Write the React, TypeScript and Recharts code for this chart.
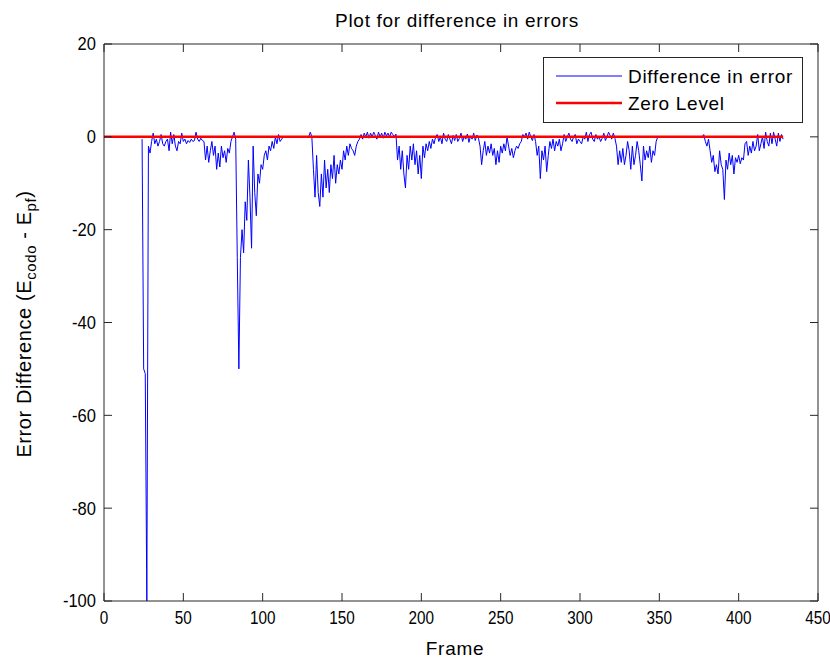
import React from "react";
import { LineChart, Line, XAxis, YAxis, Legend } from "recharts";

// ---- data ----
const xTicks = [0, 50, 100, 150, 200, 250, 300, 350, 400, 450];
const yTicks = [-100, -80, -60, -40, -20, 0, 20];
const seriesNames = ["Difference in error", "Zero Level"];

const diffStartFrame = 24;
const segFirstDrop = [-0.5, -50, -51, -100, -2]; // frames 24-28
const segEarlyNoise = [
  -3.5, -1, 0.8, -1.5, -0.5, -2, -1, 0.5, -1.5, -2,
  -1, -0.5, -3, 1, -1.5, 0.5, -2, -3, -1, -1.5,
  0.8, -1, -0.5, -1.5, -0.8, -1.2, -0.5, -1, -0.8, 1,
  -0.5, -1, -0.3, -0.8,
]; // 29-62
const segCluster1 = [
  -1, -5, -2, -5.5, -3, -1, -4, -2, -7, -3.5,
  -6.5, -2, -4.5, -3, -5.5, -2.5, -3.5, -1, 0, 1,
  -0.5,
]; // 63-83
const segDeep = [
  -26, -50, -26, -20, -25, -14, -18, -5, -13, -24,
  -2, -12, -17, -8, -10, -6, -7, -4, -3, -5,
  -2, -3, -1, -2.5, 0, -1.5, 0.5, -1, -0.5,
]; // 84-112
const segFlat1 = [0, 0, 0, 0, 0, 0, 0, 0, 0, 0, 0, 0, 0, 0, 0, 0, 0]; // 113-129
const segCluster2 = [
  1, 0, -7, -13, -4, -12, -15, -8, -13, -5,
  -11, -7, -12, -6, -9, -4, -10, -6, -8, -5,
  -7, -3, -5, -2, -4, -1.5, -2.5, -3, -4, -2,
  -1, -0.5, 0.5, -0.5, 0.8, 0, 1, -0.3, 0.8, 0,
  1,
]; // 130-170
const segQuiet1 = [0.3, -0.5, 1, 0, 0.8, -0.3, 1, 0.2, 0.8, 0, 1, 0.5, 0, 0.6]; // 171-184
const segCluster3 = [
  -5, -2, -7, -3, -8, -11, -4, -7, -2, -5,
  -1.5, -6, -3, -8, -4, -9, -2, -4.5, -1.5, -3,
  -1, -2.5, -0.5, -1.5, 0,
]; // 185-209
const segQuiet2 = [
  0.5, -1, 0, -1.5, 0.8, -0.5, -1, 0.5, -0.5, -1.5,
  0.3, -0.8, 0.5, -1, -0.3, 0.8, -1, 0, -0.5, 0.6,
  -1.2, 0.2, -0.5, 0.8, -0.8, 0.4, -0.3,
]; // 210-236
const segCluster4 = [
  -2, -6, -3, -1, -4, -2, -3.5, -1.5, -4, -2.5,
  -6, -3, -5.5, -2, -3.5, -1.5, -3, 0, -2, -4,
  -2.5, -4.5, -3, -2, -2.5, -1.5, -1, 0.5,
]; // 237-264
const segQuiet3 = [0, 0.8, -0.5, 1, 0, -0.8, 0.5, -1]; // 265-272
const segCluster5 = [-4, -2, -9, -3, -5, -2, -7.5, -4, -1, -2.5, -0.5, -3, -1]; // 273-285
const segQuiet4 = [
  -2, -0.5, -3, -1.5, 0.5, -1, 0, 0.8, -0.5, -1,
  0, 0.5, -1.5, -0.5, -1, -1.5, 0, -0.5, 1, -1,
  0.5, 1, -0.5, -1, 0.5, -0.5, 0, -1, -0.3, 0.8,
  -0.8, 0, 1, 0.3, -0.5, 0.8, -0.3,
]; // 286-322
const segCluster6 = [
  -2, -6, -3, -5.5, -2.5, -6, -4, -1, -3, -7,
  -2, -6, -4, -1, -3, -6, -9.5, -2, -5, -3,
  -4.5, -2, -5.5, -3, -4, -1, 0,
]; // 323-349
const segFlat2 = [
  0, 0, 0, 0, 0, 0, 0, 0, 0, 0,
  0, 0, 0, 0, 0, 0, 0, 0, 0, 0,
  0, 0, 0, 0, 0, 0, 0,
]; // 350-376
const segCluster7 = [
  0, 0.5, -1, -2, -0.5, -3, -5.5, -4, -7.5, -6,
  -8, -3, -6, -7, -13.5, -5, -7, -3.5, -6, -4,
  -8, -4.5, -5.5, -4, -5.8, -4.5, -5, -1.5,
]; // 377-404
const segTail = [
  -1, -4, -2, -3.5, -1, -3, -2, 0.5, -3, -1.5,
  0, -2.5, 1, -1, -2, 0.8, -1.5, 1, -0.5, -2,
  0.8, -1, 0.5, -0.5,
]; // 405-428

const diffValues = [
  ...segFirstDrop, ...segEarlyNoise, ...segCluster1, ...segDeep, ...segFlat1,
  ...segCluster2, ...segQuiet1, ...segCluster3, ...segQuiet2, ...segCluster4,
  ...segQuiet3, ...segCluster5, ...segQuiet4, ...segCluster6, ...segFlat2,
  ...segCluster7, ...segTail,
];

const zeroFrames = [0, 428];
const zeroValues = [0, 0];

const diffData = diffValues.map((v, i) => ({ frame: diffStartFrame + i, diff: v }));
const zeroData = zeroFrames.map((f, i) => ({ frame: f, zero: zeroValues[i] }));

// ---- styling ----
const FONT = "'Liberation Sans', Arial, sans-serif";
const AX = "#262626";
const TICK = 8;
const BLUE = "#0000ff";
const RED = "#ff0000";
const FS = 19;
const LS = 0.7;
const TFS = 18;

const BottomTick = (props: any) => {
  const { x, y, payload } = props;
  return (
    <g>
      <line x1={x} x2={x} y1={y} y2={y - TICK} stroke={AX} />
      <text
        transform={`translate(${x}, ${y + 23}) scale(0.85, 1)`}
        textAnchor="middle"
        fontFamily={FONT}
        fontSize={TFS}
        fill="#000"
      >
        {payload.value}
      </text>
    </g>
  );
};
const TopTick = (props: any) => {
  const { x, y } = props;
  return <line x1={x} x2={x} y1={y} y2={y + TICK} stroke={AX} />;
};
const LeftTick = (props: any) => {
  const { x, y, payload } = props;
  return (
    <g>
      <line x1={x} x2={x + TICK} y1={y} y2={y} stroke={AX} />
      <text
        transform={`translate(${x - 8}, ${y}) scale(0.92, 1)`}
        dy="0.36em"
        textAnchor="end"
        fontFamily={FONT}
        fontSize={TFS}
        fill="#000"
      >
        {payload.value}
      </text>
    </g>
  );
};
const RightTick = (props: any) => {
  const { x, y } = props;
  return <line x1={x} x2={x - TICK} y1={y} y2={y} stroke={AX} />;
};

const LegendBox = () => (
  <div
    style={{
      width: 260,
      height: 66,
      boxSizing: "border-box",
      border: `1px solid ${AX}`,
      background: "#fff",
    }}
  >
    <svg width={258} height={64} style={{ display: "block" }}>
      <line x1={12} x2={78} y1={18} y2={18} stroke={BLUE} strokeWidth={1} />
      <text x={84} y={25} fontFamily={FONT} fontSize={FS} letterSpacing={LS} fill="#000">
        {seriesNames[0]}
      </text>
      <line x1={12} x2={78} y1={45} y2={45} stroke={RED} strokeWidth={2.5} />
      <text x={84} y={52} fontFamily={FONT} fontSize={FS} letterSpacing={LS} fill="#000">
        {seriesNames[1]}
      </text>
    </svg>
  </div>
);

export default function App() {
  return (
    <div style={{ position: "absolute", left: 0, top: 0, width: 830, height: 659, background: "#fff" }}>
      <LineChart width={830} height={659} margin={{ top: 34, right: 2, bottom: 28, left: 44 }}>
        <XAxis
          xAxisId="b"
          orientation="bottom"
          type="number"
          dataKey="frame"
          domain={[0, 450]}
          ticks={xTicks}
          interval={0}
          allowDataOverflow
          height={30}
          tickSize={0}
          tickMargin={0}
          tick={BottomTick}
          axisLine={{ stroke: AX }}
        />
        <XAxis
          xAxisId="t"
          orientation="top"
          type="number"
          dataKey="frame"
          domain={[0, 450]}
          ticks={xTicks}
          interval={0}
          allowDataOverflow
          height={10}
          tickSize={0}
          tickMargin={0}
          tick={TopTick}
          axisLine={{ stroke: AX }}
        />
        <YAxis
          yAxisId="l"
          orientation="left"
          type="number"
          domain={[-100, 20]}
          ticks={yTicks}
          interval={0}
          allowDataOverflow
          width={60}
          tickSize={0}
          tickMargin={0}
          tick={LeftTick}
          axisLine={{ stroke: AX }}
        />
        <YAxis
          yAxisId="r"
          orientation="right"
          type="number"
          domain={[-100, 20]}
          ticks={yTicks}
          interval={0}
          allowDataOverflow
          width={10}
          tickSize={0}
          tickMargin={0}
          tick={RightTick}
          axisLine={{ stroke: AX }}
        />
        <Line
          xAxisId="b"
          yAxisId="l"
          data={diffData}
          dataKey="diff"
          name={seriesNames[0]}
          type="linear"
          stroke={BLUE}
          strokeWidth={1}
          dot={false}
          activeDot={false}
          isAnimationActive={false}
        />
        <Line
          xAxisId="b"
          yAxisId="l"
          data={zeroData}
          dataKey="zero"
          name={seriesNames[1]}
          type="linear"
          stroke={RED}
          strokeWidth={2.5}
          dot={false}
          activeDot={false}
          isAnimationActive={false}
        />
        <Legend
          layout="horizontal"
          verticalAlign="middle"
          align="center"
          content={() => <LegendBox />}
          wrapperStyle={{ position: "absolute", left: 543, top: 57, width: 260, height: 66 }}
        />
      </LineChart>
      <svg
        width={830}
        height={659}
        style={{ position: "absolute", left: 0, top: 0, pointerEvents: "none" }}
      >
        <text x={457} y={27} textAnchor="middle" fontFamily={FONT} fontSize={FS} letterSpacing={LS} fill="#000">
          Plot for difference in errors
        </text>
        <text x={455} y={655} textAnchor="middle" fontFamily={FONT} fontSize={FS} letterSpacing={LS} fill="#000">
          Frame
        </text>
        <text
          transform="translate(31, 324) rotate(-90)"
          textAnchor="middle"
          fontFamily={FONT}
          fontSize={20}
          letterSpacing={0.6}
          fill="#000"
        >
          <tspan>Error Difference (E</tspan>
          <tspan fontSize={15} dy={5}>codo</tspan>
          <tspan dy={-5}> - E</tspan>
          <tspan fontSize={15} dy={5}>pf</tspan>
          <tspan dy={-5}>)</tspan>
        </text>
      </svg>
    </div>
  );
}
